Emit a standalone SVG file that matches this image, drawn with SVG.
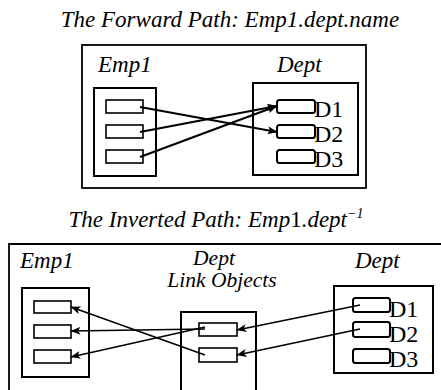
<svg xmlns="http://www.w3.org/2000/svg" width="441" height="390" viewBox="0 0 441 390">
  <style>
    .title { font-style: italic; font-size: 23px; }
    .label { font-style: italic; font-size: 23px; }
    .label-sm { font-style: italic; font-size: 21.5px; }
    .dname { font-size: 24px; }
    .frame { fill: none; stroke: #000; stroke-width: 1.8; }
    .box { fill: #fff; stroke: #000; stroke-width: 2; }
    .slot { fill: #fff; stroke: #000; stroke-width: 1.6; }
    .dslot { fill: #fff; stroke: #000; stroke-width: 2; }
    .link { fill: none; stroke: #000; stroke-width: 2.2; }
    .link2 { fill: none; stroke: #000; stroke-width: 1.6; }
  </style>
  <defs>
    <marker id="head" viewBox="0 0 10 8" refX="9.5" refY="4" markerWidth="10" markerHeight="8" markerUnits="userSpaceOnUse" orient="auto">
      <path d="M0,0 L10,4 L0,8 L2.5,4 Z" fill="#000"/>
    </marker>
  </defs>
  <rect width="441" height="390" fill="#fff"/>

  <g font-family="Liberation Serif, Times New Roman, serif" fill="#000">
  <!-- Forward path -->
  <text class="title" x="230" y="27" text-anchor="middle">The Forward Path: Emp1.dept.name</text>
  <rect class="frame" x="82" y="45" width="284" height="143"/>

  <g id="fwd-emp1">
    <text class="label" x="98" y="72">Emp1</text>
    <rect class="box" x="94" y="88" width="62" height="88"/>
    <rect class="slot" x="106" y="100" width="37" height="13"/>
    <rect class="slot" x="106" y="125" width="37" height="13"/>
    <rect class="slot" x="106" y="150" width="37" height="13"/>
  </g>

  <g id="fwd-dept">
    <text class="label" x="277" y="72">Dept</text>
    <rect class="box" x="253" y="83" width="105" height="92"/>
    <rect class="dslot" x="277" y="100" width="38" height="13" rx="2.5"/>
    <rect class="dslot" x="277" y="125" width="38" height="13" rx="2.5"/>
    <rect class="dslot" x="277" y="150" width="38" height="13" rx="2.5"/>
    <text class="dname" x="314" y="117">D1</text>
    <text class="dname" x="314" y="142">D2</text>
    <text class="dname" x="314" y="167">D3</text>
  </g>

  <g id="fwd-connectors">
    <line class="link" x1="140" y1="107" x2="277" y2="132" marker-end="url(#head)"/>
    <line class="link" x1="140" y1="132" x2="277" y2="106" marker-end="url(#head)"/>
    <line class="link" x1="140" y1="157" x2="277" y2="106" marker-end="url(#head)"/>
  </g>

  <!-- Inverted path -->
  <text class="title" x="216" y="227" text-anchor="middle">The Inverted Path: Emp<tspan font-style="normal">1</tspan>.dept<tspan font-size="14" dy="-9">−1</tspan></text>
  <path class="frame" d="M9,392 L9,244 L443,244"/>

  <g id="inv-emp1">
    <text class="label" x="20" y="268">Emp1</text>
    <rect class="box" x="22" y="288" width="67" height="89"/>
    <rect class="slot" x="34" y="301" width="37" height="12"/>
    <rect class="slot" x="34" y="325" width="37" height="13"/>
    <rect class="slot" x="34" y="350" width="37" height="13"/>
  </g>

  <g id="inv-link">
    <text class="label-sm" x="214" y="265" text-anchor="middle">Dept</text>
    <text class="label-sm" x="222" y="287" text-anchor="middle">Link Objects</text>
    <rect class="box" x="181" y="312" width="75" height="90"/>
    <rect class="slot" x="199" y="323" width="38" height="13"/>
    <rect class="slot" x="199" y="348" width="38" height="14"/>
  </g>

  <g id="inv-dept">
    <text class="label" x="355" y="268">Dept</text>
    <rect class="box" x="334" y="286" width="99" height="87"/>
    <rect class="dslot" x="353" y="298" width="37" height="14" rx="2.5"/>
    <rect class="dslot" x="353" y="322" width="37" height="15" rx="2.5"/>
    <rect class="dslot" x="353" y="349" width="37" height="14" rx="2.5"/>
    <text class="dname" x="389" y="317">D1</text>
    <text class="dname" x="389" y="342">D2</text>
    <text class="dname" x="389" y="367">D3</text>
  </g>

  <g id="inv-connectors">
    <line class="link2" x1="205" y1="329" x2="71" y2="331" marker-end="url(#head)"/>
    <line class="link2" x1="205" y1="355" x2="71" y2="307" marker-end="url(#head)"/>
    <line class="link2" x1="205" y1="327" x2="71" y2="357" marker-end="url(#head)"/>
    <line class="link2" x1="360" y1="305" x2="237" y2="330" marker-end="url(#head)"/>
    <line class="link2" x1="360" y1="329" x2="237" y2="355" marker-end="url(#head)"/>
  </g>
  </g>
</svg>
